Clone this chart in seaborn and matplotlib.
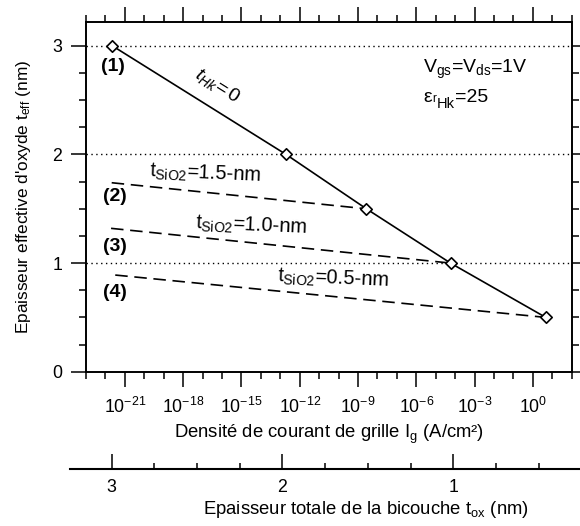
import numpy as np
import pandas as pd
import matplotlib
matplotlib.use("Agg")
import matplotlib.pyplot as plt
import seaborn as sns
from matplotlib.ticker import FixedLocator, FixedFormatter, NullFormatter

# ---------------- data ----------------
ig_thk0 = [2.3e-22, 2.0e-13, 2.7e-9, 5.8e-5, 4.6]     # A/cm2, t_Hk = 0 curve
teff_thk0 = [3.0, 2.0, 1.5, 1.0, 0.5]                  # nm
ig_start = [2.1e-22, 1.95e-22, 3.2e-22]                # dashed curves start
teff_start = [1.74, 1.32, 0.89]
end_index = [2, 3, 4]                                  # dashed curves end on these points
curve_tags = ["(1)", "(2)", "(3)", "(4)"]
sio2_values = ["1.5", "1.0", "0.5"]
x_tick_exps = [-21, -18, -15, -12, -9, -6, -3, 0]
y_ticks = [0, 1, 2, 3]
tox_ticks = [3, 2, 1]

# ---------------- style ----------------
sns.set_style("ticks")
plt.rcParams["font.family"] = ["Liberation Sans", "DejaVu Sans"]
plt.rcParams["mathtext.fontset"] = "custom"
plt.rcParams["mathtext.rm"] = "Liberation Sans"
plt.rcParams["mathtext.it"] = "Liberation Sans:italic"
plt.rcParams["mathtext.bf"] = "Liberation Sans:bold"
plt.rcParams["text.color"] = "black"
plt.rcParams["axes.labelcolor"] = "black"
plt.rcParams["xtick.color"] = "black"
plt.rcParams["ytick.color"] = "black"

fig = plt.figure(figsize=(5.8, 5.26), dpi=100)
W, H = 580.0, 526.0
ax = fig.add_axes([86 / W, 1 - 371.7 / H, (571.7 - 86) / W, (371.7 - 22) / H])
ax.set_xscale("log")

df_main = pd.DataFrame({"Ig": ig_thk0, "teff": teff_thk0})
dash_rows = []
for i, k in enumerate(end_index):
    dash_rows.append({"Ig": ig_start[i], "teff": teff_start[i], "curve": curve_tags[i + 1]})
    dash_rows.append({"Ig": ig_thk0[k], "teff": teff_thk0[k], "curve": curve_tags[i + 1]})
df_dash = pd.DataFrame(dash_rows)

# horizontal dotted lines
for yv in [1, 2, 3]:
    ax.axhline(yv, color="black", lw=1.0, linestyle=(0, (1, 2.5)), zorder=1)

for tag, sub in df_dash.groupby("curve"):
    sns.lineplot(data=sub, x="Ig", y="teff", sort=False, estimator=None,
                 color="black", lw=1.2, linestyle=(0, (7.5, 4)), ax=ax, zorder=2)

sns.lineplot(data=df_main, x="Ig", y="teff", sort=False, estimator=None,
             color="black", lw=1.2, ax=ax, zorder=3)
sns.scatterplot(data=df_main, x="Ig", y="teff", marker="D", s=34,
                facecolor="white", edgecolor="black", linewidth=1.2, ax=ax, zorder=4)

ax.set_xlim(1e-23, 1e2)
ax.set_ylim(0, 3.22)

# ticks
ax.xaxis.set_major_locator(FixedLocator([10.0 ** e for e in x_tick_exps]))
ax.xaxis.set_major_formatter(FixedFormatter(
    ["10$^{\\mathregular{%d}}$" % e for e in x_tick_exps]))
ax.xaxis.set_minor_locator(FixedLocator([10.0 ** e for e in range(-23, 3)]))
ax.xaxis.set_minor_formatter(NullFormatter())
ax.yaxis.set_major_locator(FixedLocator(y_ticks))
ax.yaxis.set_major_formatter(FixedFormatter([str(v) for v in y_ticks]))
ax.yaxis.set_minor_locator(FixedLocator(np.arange(0, 3.26, 0.25)))

ax.tick_params(axis="both", which="major", direction="out", length=11, width=1.1,
               labelsize=12.8, color="black", labelcolor="black")
ax.tick_params(axis="both", which="minor", direction="out", length=4.8, width=1.1)
ax.tick_params(axis="x", which="both", top=True, bottom=True, pad=7)
ax.tick_params(axis="y", which="both", left=True, right=True, pad=6)
for sp in ax.spines.values():
    sp.set_visible(True)
    sp.set_linewidth(1.4)
    sp.set_color("black")

ax.set_xlabel("Densité de courant de grille I$_{\\mathregular{g}}$ (A/cm²)", fontsize=13.3,
              labelpad=4)
ax.set_ylabel("Epaisseur effective d'oxyde t$_{\\mathregular{eff}}$ (nm)", fontsize=12.4,
              labelpad=14)

# curve tags
tag_pos = [(10 ** -21.61, 2.806), (10 ** -21.5, 1.611), (10 ** -21.5, 1.157), (10 ** -21.5, 0.727)]
for tag, (tx, ty) in zip(curve_tags, tag_pos):
    ax.text(tx, ty, tag, fontsize=14, fontweight="bold", ha="center", va="center")

ax.text(10 ** -16.25, 2.63, "$\\mathit{t_{Hk}\\!=0}$", fontsize=14, rotation=-32,
        ha="center", va="center", rotation_mode="anchor")

sio2_pos = [(10 ** -16.85, 1.820), (10 ** -14.51, 1.343), (10 ** -10.29, 0.860)]
for val, (tx, ty) in zip(sio2_values, sio2_pos):
    ax.text(tx, ty, "t$_{\\mathregular{SiO2}}$=%s-nm" % val, fontsize=14.3, rotation=-2.5,
            ha="center", va="center", rotation_mode="anchor")

ax.text(10 ** -5.64, 2.748, "V$_{\\mathregular{gs}}$=V$_{\\mathregular{ds}}$=1V",
        fontsize=14, ha="left", va="baseline")
t1 = ax.text(10 ** -5.64, 2.486, "ε", fontsize=14, ha="left", va="baseline")
t2 = ax.annotate("r", xy=(1, 0), xycoords=t1, xytext=(0.4, 0.6), textcoords="offset points",
                 fontsize=8.5, ha="left", va="bottom")
t3 = ax.annotate("Hk", xy=(1, 0), xycoords=(t2, t1), xytext=(0.2, -1.3),
                 textcoords="offset points", fontsize=10.5, ha="left", va="baseline")
t4 = ax.annotate("=25", xy=(1, 0), xycoords=(t3, t1), xytext=(0.3, 0),
                 textcoords="offset points", fontsize=14, ha="left", va="bottom")

# ---------------- secondary (t_ox) axis ----------------
ax2 = fig.add_axes([70 / W, 1 - 469.3 / H, (580 - 70) / W, 0.0001])
ax2.patch.set_visible(False)
for s in ["left", "right", "top"]:
    ax2.spines[s].set_visible(False)
ax2.spines["bottom"].set_linewidth(1.5)
ax2.spines["bottom"].set_color("black")
ax2.set_xlim(3.244, 0.258)
ax2.set_yticks([])
ax2.xaxis.set_major_locator(FixedLocator(tox_ticks))
ax2.xaxis.set_major_formatter(FixedFormatter([str(v) for v in tox_ticks]))
ax2.xaxis.set_minor_locator(FixedLocator(np.arange(0.25, 3.25, 0.25)))
ax2.tick_params(axis="x", which="major", direction="in", length=11, width=1.1,
                labelsize=12.8, pad=7, labelcolor="black")
ax2.tick_params(axis="x", which="minor", direction="in", length=4.5, width=1.1)
fig.text(365.5 / W, 1 - 510 / H,
         "Epaisseur totale de la bicouche t$_{\\mathregular{ox}}$ (nm)",
         fontsize=13.3, ha="center", va="center", color="black")

fig.savefig("out.png", dpi=100)
